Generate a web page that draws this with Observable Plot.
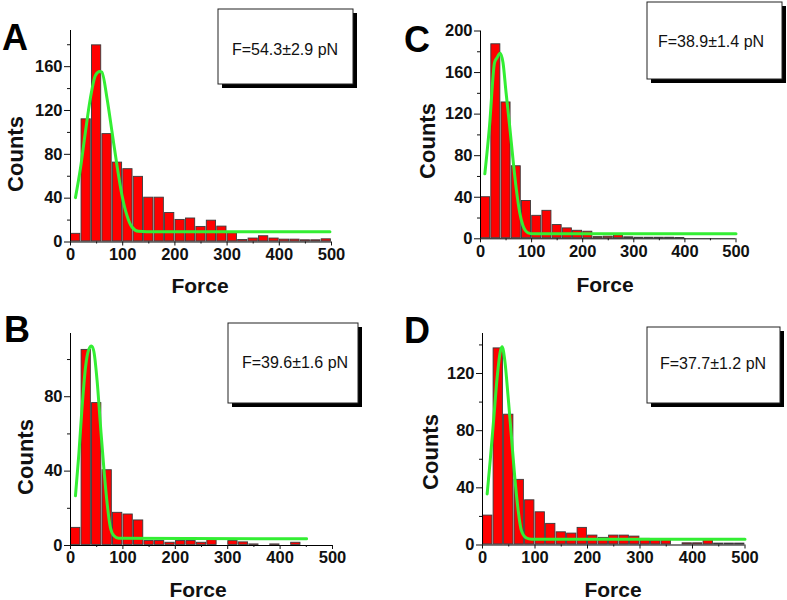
<!DOCTYPE html>
<html>
<head>
<meta charset="utf-8">
<script src="https://cdn.jsdelivr.net/npm/d3@7"></script>
<script src="https://cdn.jsdelivr.net/npm/@observablehq/plot@0.6"></script>
<style>
  html, body { margin: 0; padding: 0; background: #fff; }
  #wrap { position: relative; width: 787px; height: 600px; overflow: hidden; background: #fff; }
  .panel { position: absolute; }
  #overlay { position: absolute; left: 0; top: 0; pointer-events: none; }
</style>
</head>
<body>
<div id="wrap"></div>
<script>
// ---------- data ----------
const binStart = [0,20,40,60,80,100,120,140,160,180,200,220,240,260,280,300,320,340,360,380,400,420,440,460,480];
const binWidth = 20;

const countsA = [8,112.5,180,99,73,67,60,41,41,27,20.7,22,14.3,20,14.6,8.5,2.4,3.7,5.8,3.7,2.7,2.7,2.1,2.1,3];
const countsB = [9.8,105.5,76.9,40.8,17.9,17,13.8,2.7,2.7,1.8,2.7,2.7,1.8,3.2,0,2.7,2,0.9,0,0.9,0,1.8,0,0,0];
const countsC = [40.6,187.8,131.8,70.4,37,22.7,27.5,13.8,10.6,8.3,7.4,2.2,2.6,4,2,1.6,1.6,1.6,1.6,1.3,0,1,1,1,0];
const countsD = [21,138,91.6,46,31.7,23.3,15.2,9.3,8.4,12.4,7,5.4,7,7,6.3,4.7,3.5,3.7,0,1.6,1.6,4,1.4,1.4,1.4];

const fitAForce  = [9.5,19,28.6,38,47.7,56,60,70,79.5,89,98.6,108,117.7,130,146,497];
const fitACounts = [40.5,67,100.6,131,152,155.5,155,131,100.6,70,42.7,24.4,13.7,9.8,9.4,9.4];
const fitBForce  = [9.5,15.9,22,28.6,35,40,44.4,50.8,57,63.5,70,76,82.5,92,450.5];
const fitBCounts = [26.8,49,74,95.7,105.5,107.3,104.6,88.5,65.3,42,22.4,9.8,5.4,3.9,3.6];
const fitCForce  = [8.5,17.7,27.5,32,38.6,44,50,57,63.5,70,76.6,83,93,103,500];
const fitCCounts = [62.5,108.8,169.6,174,178.6,169.6,140.8,108.8,76.8,48,25.6,12.8,5.8,4.8,4.8];
const fitDForce  = [8.9,15.2,21.6,27.9,34.3,37.4,42.5,48.9,55.2,61.5,68,74.2,83.8,93.3,500];
const fitDCounts = [35.7,61.3,89.3,117.2,136,138.7,129,103.3,75.3,47.3,24,10,4.9,4,4];

const xTicks = [0,100,200,300,400,500];
const xMinor = [50,150,250,350,450];
const yTicksA = [0,40,80,120,160];   const yMinorA = [20,60,100,140,180];
const yTicksB = [0,40,80];           const yMinorB = [20,60,100];
const yTicksC = [0,40,80,120,160,200]; const yMinorC = [20,60,100,140,180];
const yTicksD = [0,40,80,120];       const yMinorD = [20,60,100,140];

const panelLetters = ["A","B","C","D"];
const fitLabels = ["F=54.3±2.9 pN","F=39.6±1.6 pN","F=38.9±1.4 pN","F=37.7±1.2 pN"];

// ---------- layout ----------
const FONT = "'Liberation Sans', Arial, Helvetica, sans-serif";
const panels = [
  {counts: countsA, fx: fitAForce, fy: fitACounts, yT: yTicksA, yM: yMinorA, yMax: 193,
   left: 0, top: 0, width: 393, height: 300, mL: 70, mR: 62, mT: 30, mB: 58.5},
  {counts: countsB, fx: fitBForce, fy: fitBCounts, yT: yTicksB, yM: yMinorB, yMax: 114,
   left: 0, top: 300, width: 393, height: 300, mL: 70, mR: 61, mT: 33, mB: 55},
  {counts: countsC, fx: fitCForce, fy: fitCCounts, yT: yTicksC, yM: yMinorC, yMax: 200,
   left: 393, top: 0, width: 394, height: 300, mL: 87, mR: 51.5, mT: 30.5, mB: 61.7},
  {counts: countsD, fx: fitDForce, fy: fitDCounts, yT: yTicksD, yM: yMinorD, yMax: 148,
   left: 393, top: 300, width: 394, height: 300, mL: 89, mR: 42.5, mT: 33, mB: 55.5}
];

const wrap = document.getElementById("wrap");

panels.forEach(p => {
  const bars = binStart.map((s, i) => ({start: s, end: s + binWidth, count: p.counts[i]}))
                       .filter(d => d.count > 0);
  const fit = p.fx.map((x, i) => ({force: x, counts: p.fy[i]}));
  const chart = Plot.plot({
    width: p.width, height: p.height,
    marginLeft: p.mL, marginRight: p.mR, marginTop: p.mT, marginBottom: p.mB,
    style: {fontFamily: FONT, background: "transparent", color: "#111", overflow: "visible"},
    x: {domain: [0, 500]},
    y: {domain: [0, p.yMax]},
    marks: [
      Plot.rectY(bars, {x1: "start", x2: "end", y: "count", fill: "#ff0000",
                        stroke: "#3a3a3a", strokeWidth: 0.9, inset: 0.6}),
      Plot.line(fit, {x: "force", y: "counts", stroke: "#33ee33", strokeWidth: 3,
                      curve: "monotone-x"}),
      Plot.ruleX([0], {stroke: "#000", strokeWidth: 1}),
      Plot.ruleY([0], {stroke: "#000", strokeWidth: 1}),
      Plot.axisY({ticks: p.yT, tickSize: 6, tickPadding: 2, fontSize: 16.5, fontWeight: "bold",
                  label: null, tickFormat: d => String(d)}),
      Plot.axisY({ticks: p.yM, tickSize: 3, text: null, label: null}),
      Plot.axisX({ticks: xTicks, tickSize: 4, tickPadding: 2, fontSize: 16.5, fontWeight: "bold",
                  label: null, tickFormat: d => String(d)}),
      Plot.axisX({ticks: xMinor, tickSize: 2, text: null, label: null})
    ]
  });
  const holder = document.createElement("div");
  holder.className = "panel";
  holder.style.left = p.left + "px";
  holder.style.top = p.top + "px";
  holder.appendChild(chart);
  wrap.appendChild(holder);
});

// ---------- annotations (letters, axis titles, fit boxes) ----------
const svg = d3.select(wrap).append("svg")
  .attr("id", "overlay").attr("width", 787).attr("height", 600)
  .style("font-family", FONT);

const letterPos = [[2, 50], [4, 342], [404, 52], [404, 343]];
panelLetters.forEach((t, i) => {
  svg.append("text").attr("x", letterPos[i][0]).attr("y", letterPos[i][1])
    .attr("font-size", 36).attr("font-weight", "bold").attr("fill", "#000").text(t);
});

const countsPos = [[23, 154], [33, 457], [435, 141], [438, 452]];
countsPos.forEach(([x, y]) => {
  svg.append("text").attr("transform", `translate(${x},${y}) rotate(-90)`)
    .attr("text-anchor", "middle").attr("font-size", 22).attr("font-weight", "bold")
    .attr("fill", "#111").text("Counts");
});

const forcePos = [[200, 293], [198, 597], [605, 292], [613, 597]];
forcePos.forEach(([x, y]) => {
  svg.append("text").attr("x", x).attr("y", y).attr("text-anchor", "middle")
    .attr("font-size", 21).attr("font-weight", "bold").attr("fill", "#111").text("Force");
});

const boxes = [
  {x: 218, y: 9, w: 135, h: 75, tx: 285, ty: 55},
  {x: 228, y: 323, w: 130, h: 80, tx: 295, ty: 368},
  {x: 647, y: 2, w: 135, h: 77, tx: 711, ty: 47},
  {x: 647, y: 327, w: 133, h: 76, tx: 713, ty: 369}
];
boxes.forEach((b, i) => {
  svg.append("rect").attr("x", b.x + 4).attr("y", b.y + 4).attr("width", b.w).attr("height", b.h)
    .attr("fill", "#000");
  svg.append("rect").attr("x", b.x).attr("y", b.y).attr("width", b.w).attr("height", b.h)
    .attr("fill", "#fff").attr("stroke", "#222").attr("stroke-width", 1);
  svg.append("text").attr("x", b.tx).attr("y", b.ty).attr("text-anchor", "middle")
    .attr("font-size", 16).attr("fill", "#111").text(fitLabels[i]);
});
</script>
</body>
</html>
